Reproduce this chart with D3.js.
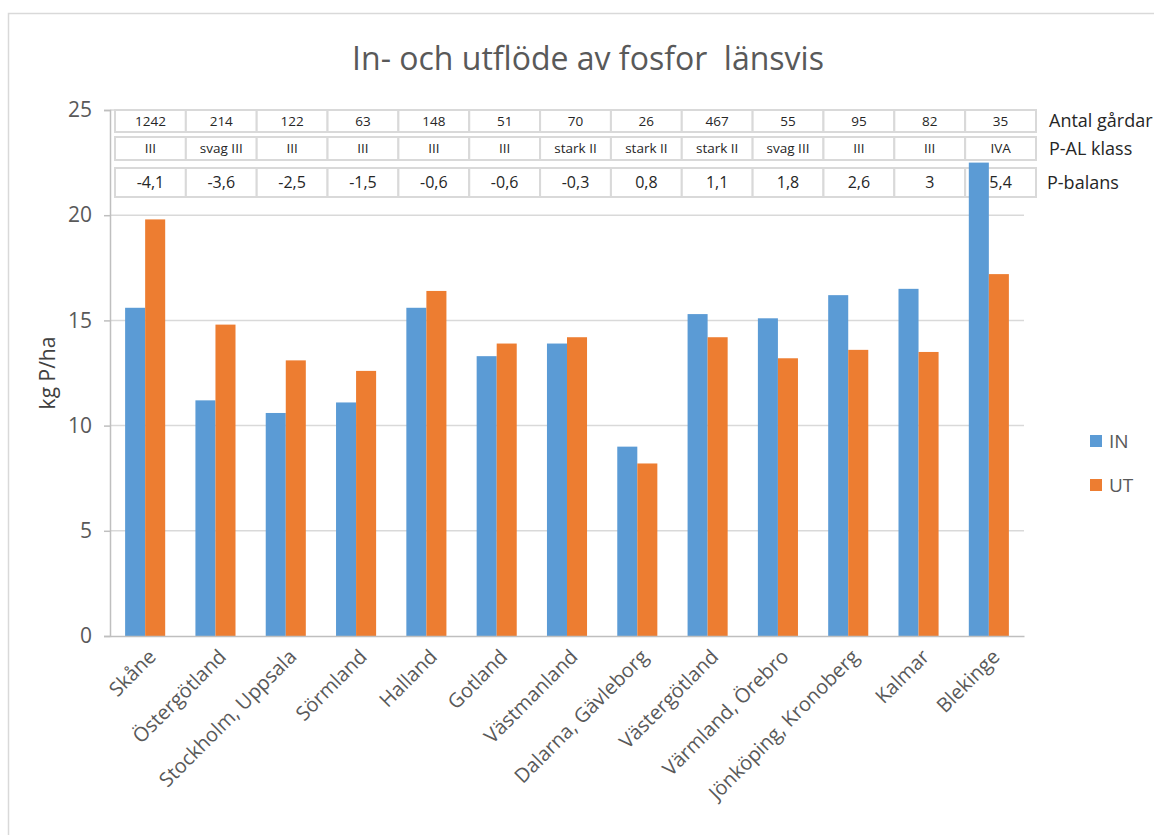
<!DOCTYPE html>
<html>
<head>
<meta charset="utf-8">
<script src="https://cdn.jsdelivr.net/npm/d3@7"></script>
<style>
  html, body { margin: 0; padding: 0; background: #fff; }
  svg text { font-family: "Open Sans", "Noto Sans", sans-serif; }
</style>
</head>
<body>
<svg id="chart" width="1154" height="835"></svg>
<script>
// ---- data ----
const categories = ["Skåne", "Östergötland", "Stockholm, Uppsala", "Sörmland", "Halland", "Gotland",
  "Västmanland", "Dalarna, Gävleborg", "Västergötland", "Värmland, Örebro", "Jönköping, Kronoberg",
  "Kalmar", "Blekinge"];
const seriesNames = ["IN", "UT"];
const inValues = [15.6, 11.2, 10.6, 11.1, 15.6, 13.3, 13.9, 9.0, 15.3, 15.1, 16.2, 16.5, 22.5];
const utValues = [19.8, 14.8, 13.1, 12.6, 16.4, 13.9, 14.2, 8.2, 14.2, 13.2, 13.6, 13.5, 17.2];
const antalGardar = ["1242", "214", "122", "63", "148", "51", "70", "26", "467", "55", "95", "82", "35"];
const pAlKlass = ["III", "svag III", "III", "III", "III", "III", "stark II", "stark II", "stark II", "svag III", "III", "III", "IVA"];
const pBalans = ["-4,1", "-3,6", "-2,5", "-1,5", "-0,6", "-0,6", "-0,3", "0,8", "1,1", "1,8", "2,6", "3", "5,4"];
const tableRowLabels = ["Antal gårdar", "P-AL klass", "P-balans"];
const yTicks = [0, 5, 10, 15, 20, 25];
const title = "In- och utflöde av fosfor  länsvis";
const yTitle = "kg P/ha";

// ---- layout ----
const svg = d3.select("#chart");
const colors = { IN: "#5B9BD5", UT: "#ED7D31" };
const plot = { left: 110, right: 1024, top: 110, bottom: 636 };

// outer chart border
svg.append("rect").attr("x", 8.5).attr("y", 13.5).attr("width", 1160).attr("height", 840)
  .attr("fill", "none").attr("stroke", "#d9d9d9").attr("stroke-width", 1.5);

const x = d3.scaleBand().domain(categories).range([plot.left, plot.right]).paddingInner(0.43).paddingOuter(0.215);
const xs = d3.scaleBand().domain(seriesNames).range([0, x.bandwidth()]);
const y = d3.scaleLinear().domain([0, 25]).range([plot.bottom, plot.top]);

// title
svg.append("text").attr("x", 588).attr("y", 70).attr("text-anchor", "middle")
  .attr("font-size", 32).attr("fill", "#595959").style("white-space", "pre").text(title);

// gridlines
svg.append("g").selectAll("line").data(yTicks.filter(d => d > 0)).join("line")
  .attr("x1", plot.left).attr("x2", plot.right)
  .attr("y1", d => y(d)).attr("y2", d => y(d))
  .attr("stroke", "#d9d9d9").attr("stroke-width", 1.5);

// y axis
const yAxis = d3.axisLeft(y).tickValues(yTicks).tickSize(6).tickPadding(12).tickFormat(d3.format("d"));
const yg = svg.append("g").attr("transform", `translate(${plot.left},0)`).call(yAxis);
yg.select(".domain").attr("stroke", "#bfbfbf").attr("stroke-width", 1.5);
yg.selectAll(".tick line").attr("stroke", "#bfbfbf").attr("stroke-width", 1.5);
yg.selectAll(".tick text").attr("font-size", 21).attr("fill", "#595959")
  .style("font-family", "'Open Sans', sans-serif");

svg.append("text").attr("transform", `translate(55,${(plot.top + plot.bottom) / 2}) rotate(-90)`)
  .attr("text-anchor", "middle").attr("font-size", 21).attr("fill", "#404040").text(yTitle);

// data table (overlay)
const tx = d3.scaleBand().domain(categories).range([115, 1036]);
const rows = [
  { values: antalGardar, y0: 110, y1: 132, size: 13.5 },
  { values: pAlKlass, y0: 137, y1: 160, size: 13.5 },
  { values: pBalans, y0: 168, y1: 197, size: 16 }
];
const tg = svg.append("g");
rows.forEach((r, ri) => {
  const g = tg.append("g");
  g.selectAll("rect").data(categories).join("rect")
    .attr("x", d => tx(d)).attr("y", r.y0).attr("width", tx.bandwidth()).attr("height", r.y1 - r.y0)
    .attr("fill", "#fff").attr("stroke", "#d9d9d9").attr("stroke-width", 2);
  g.selectAll("text").data(categories).join("text")
    .attr("x", d => tx(d) + tx.bandwidth() / 2).attr("y", (r.y0 + r.y1) / 2)
    .attr("dy", "0.35em").attr("text-anchor", "middle").attr("font-size", r.size).attr("fill", "#262626")
    .text((d, i) => r.values[i]);
  g.append("text").attr("x", ri === 2 ? 1047 : 1049).attr("y", (r.y0 + r.y1) / 2).attr("dy", "0.35em")
    .attr("font-size", 18).attr("fill", "#262626").text(tableRowLabels[ri]);
});

// bars
const groups = svg.append("g").selectAll("g").data(categories).join("g")
  .attr("transform", d => `translate(${x(d)},0)`);
groups.selectAll("rect").data((d, i) => [
  { key: "IN", value: inValues[i] },
  { key: "UT", value: utValues[i] }
]).join("rect")
  .attr("x", d => xs(d.key)).attr("width", xs.bandwidth())
  .attr("y", d => y(d.value)).attr("height", d => y(0) - y(d.value))
  .attr("fill", d => colors[d.key]);

// x axis
const xAxis = d3.axisBottom(x).tickSize(0).tickPadding(0);
const xg = svg.append("g").attr("transform", `translate(0,${plot.bottom})`).call(xAxis);
xg.select(".domain").attr("stroke", "#bfbfbf").attr("stroke-width", 1.5);
xg.selectAll(".tick text")
  .attr("text-anchor", "end").attr("font-size", 20).attr("fill", "#595959")
  .style("font-family", "'Open Sans', sans-serif")
  .attr("dy", 0).attr("y", 0)
  .attr("transform", "translate(12,22) rotate(-45)");

// legend
const lg = svg.append("g");
seriesNames.forEach((s, i) => {
  lg.append("rect").attr("x", 1090).attr("y", 435 + i * 44).attr("width", 12).attr("height", 12)
    .attr("fill", colors[s]);
  lg.append("text").attr("x", 1109).attr("y", 441 + i * 44).attr("dy", "0.35em")
    .attr("font-size", 19).attr("fill", "#595959").text(s);
});
</script>
</body>
</html>
